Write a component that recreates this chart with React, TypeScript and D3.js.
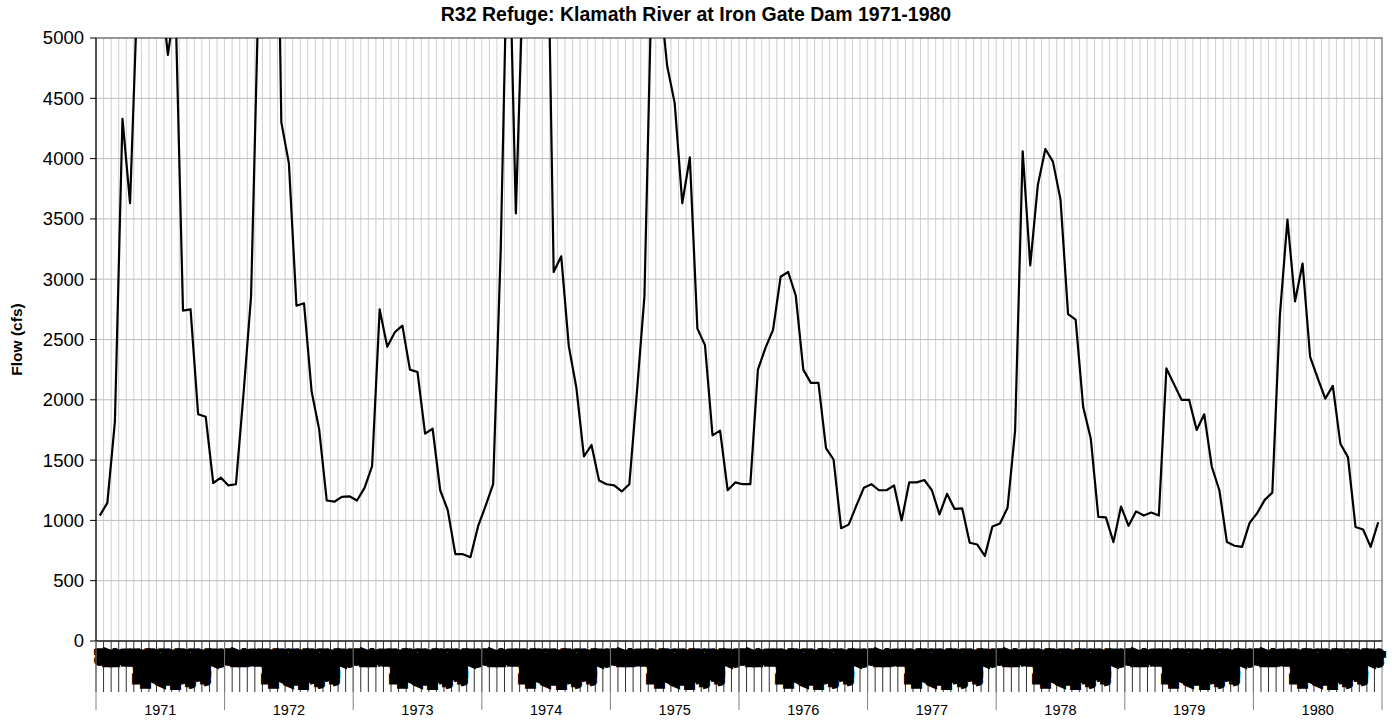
import React from 'react';
import * as d3 from 'd3';

// water years shown on the outer category level
const years = ['1971', '1972', '1973', '1974', '1975', '1976', '1977', '1978', '1979', '1980'];

// inner category level: 17 model periods per water year
const periods = [
  'Oct', 'Nov', 'Dec', 'Jan', 'Feb',
  'Mar 1-15', 'Mar 16-31', 'Apr 1-15', 'Apr 16-30', 'May 1-15', 'May 16-31',
  'Jun 1-15', 'Jun 16-30', 'Jul 1-15', 'Jul 16-31', 'Aug', 'Sep',
];

// flow (cfs) per year, one value per period
const flow1971 = [1040, 1145, 1820, 4330, 3630, 5430, 6500, 6000, 5470, 4860, 5300, 2740, 2750, 1880, 1860, 1310, 1355];
const flow1972 = [1290, 1300, 2050, 2860, 5420, 7000, 8300, 4300, 3960, 2780, 2800, 2070, 1755, 1165, 1155, 1195, 1200];
const flow1973 = [1165, 1270, 1450, 2750, 2440, 2560, 2615, 2250, 2230, 1720, 1760, 1250, 1085, 720, 720, 695, 950];
const flow1974 = [1120, 1300, 3240, 6200, 3545, 5600, 7000, 7500, 6800, 3060, 3190, 2445, 2100, 1530, 1625, 1330, 1300];
const flow1975 = [1290, 1240, 1300, 2060, 2860, 5600, 5400, 4770, 4460, 3630, 4010, 2590, 2455, 1705, 1745, 1250, 1315];
const flow1976 = [1300, 1300, 2250, 2430, 2580, 3020, 3060, 2865, 2250, 2140, 2140, 1600, 1505, 935, 965, 1120, 1270];
const flow1977 = [1300, 1250, 1250, 1290, 1000, 1315, 1315, 1335, 1250, 1050, 1220, 1095, 1100, 815, 800, 705, 950];
const flow1978 = [975, 1105, 1745, 4060, 3115, 3780, 4080, 3975, 3660, 2710, 2665, 1940, 1680, 1030, 1025, 820, 1115];
const flow1979 = [955, 1075, 1040, 1065, 1040, 2260, 2130, 2000, 2000, 1750, 1880, 1445, 1250, 820, 790, 780, 980];
const flow1980 = [1060, 1170, 1230, 2700, 3495, 2815, 3130, 2355, 2180, 2010, 2115, 1635, 1525, 945, 925, 780, 985];

const yTicks = [0, 500, 1000, 1500, 2000, 2500, 3000, 3500, 4000, 4500, 5000];

const flows = [flow1971, flow1972, flow1973, flow1974, flow1975, flow1976, flow1977, flow1978, flow1979, flow1980];

const data = flows.flatMap((vals, yi) =>
  vals.map((v, pi) => ({ key: `${years[yi]}-${pi}`, year: years[yi], period: periods[pi], value: v }))
);

const W = 1392;
const H = 721;
const left = 96;
const right = 1382;
const top = 38;
const bottom = 641;
const font = "'Liberation Sans', Arial, sans-serif";

export default function App() {
  const x = d3.scaleBand<string>()
    .domain(data.map(d => d.key))
    .range([left, right])
    .padding(0);
  const bw = x.bandwidth();

  const y = d3.scaleLinear().domain([0, 5000]).range([bottom, top]);

  const line = d3.line<typeof data[number]>()
    .x(d => (x(d.key) as number) + bw / 2)
    .y(d => y(d.value));

  const yearX = d3.scaleBand<string>().domain(years).range([left, right]);

  return (
    <svg width={W} height={H} style={{ position: 'absolute', left: 0, top: 0, background: '#fff' }}>
      <defs>
        <clipPath id="plot">
          <rect x={left} y={top} width={right - left} height={bottom - top} />
        </clipPath>
      </defs>

      {/* vertical gridlines at every period boundary */}
      {data.slice(1).map(d => (
        <line key={'vg' + d.key} x1={x(d.key)} x2={x(d.key)} y1={top} y2={bottom} stroke="#cfcfcf" strokeWidth={1} />
      ))}
      {/* horizontal gridlines */}
      {yTicks.map(t => (
        <line key={'hg' + t} x1={left} x2={right} y1={y(t)} y2={y(t)} stroke="#bdbdbd" strokeWidth={1} />
      ))}

      <rect x={left} y={top} width={right - left} height={bottom - top} fill="none" stroke="#505050" strokeWidth={1} />

      <path d={line(data) || ''} fill="none" stroke="#000" strokeWidth={2.2} strokeLinejoin="round" clipPath="url(#plot)" />

      {/* y axis */}
      <line x1={left} x2={left} y1={top} y2={bottom} stroke="#000" />
      {yTicks.map(t => (
        <g key={'yt' + t}>
          <line x1={left - 6} x2={left} y1={y(t)} y2={y(t)} stroke="#000" />
          <text x={left - 12} y={y(t)} dy="0.35em" textAnchor="end" fontFamily={font} fontSize={18.5}>{t}</text>
        </g>
      ))}
      <text transform={`translate(22,${(top + bottom) / 2}) rotate(-90)`} textAnchor="middle" fontFamily={font} fontSize={15.5} fontWeight="bold">Flow (cfs)</text>

      {/* category axis */}
      <line x1={left} x2={right} y1={bottom} y2={bottom} stroke="#000" />
      {data.map(d => (
        <line key={'ct' + d.key} x1={x(d.key)} x2={x(d.key)} y1={bottom} y2={692} stroke="#303030" />
      ))}
      <line x1={right} x2={right} y1={bottom} y2={710} stroke="#808080" />
      {data.map(d => (
        <text
          key={'cl' + d.key}
          transform={`translate(${(x(d.key) as number) + bw / 2},651) rotate(-90)`}
          textAnchor="end"
          dy="0.3em"
          fontFamily={font}
          fontSize={7.8}
          fill="#000"
          stroke="#000"
          strokeWidth={6}
          strokeLinejoin="miter"
          strokeMiterlimit={2}
        >{d.period}</text>
      ))}
      {years.map(yr => (
        <g key={'yr' + yr}>
          <line x1={yearX(yr)} x2={yearX(yr)} y1={bottom} y2={710} stroke="#808080" />
          <text x={(yearX(yr) as number) + yearX.bandwidth() / 2} y={715} textAnchor="middle" fontFamily={font} fontSize={14.5}>{yr}</text>
        </g>
      ))}

      <text x={W / 2} y={21} textAnchor="middle" fontFamily={font} fontSize={19.5} fontWeight="bold">R32 Refuge: Klamath River at Iron Gate Dam 1971-1980</text>
    </svg>
  );
}
